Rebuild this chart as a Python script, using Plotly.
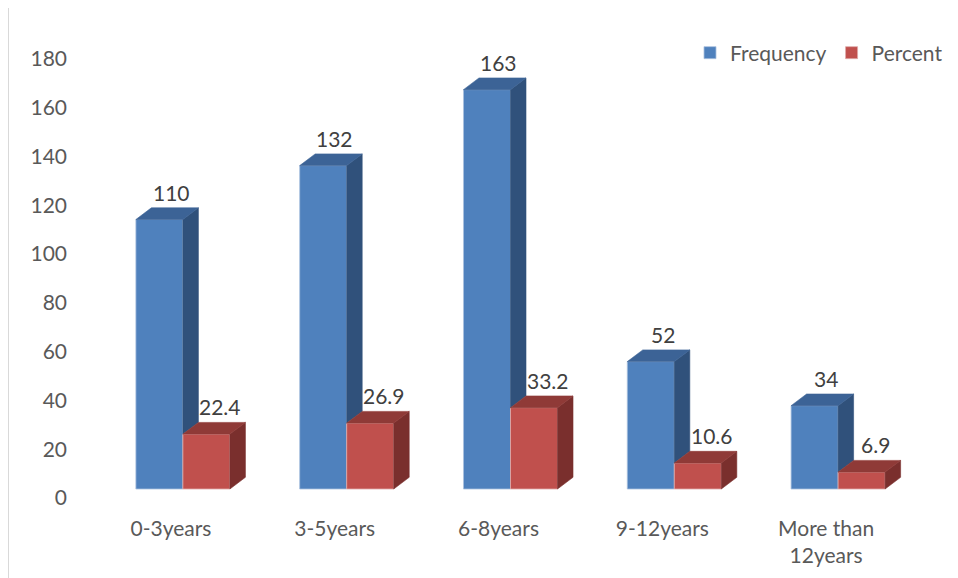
import plotly.graph_objects as go

categories = ["0-3years", "3-5years", "6-8years", "9-12years", "More than<br>12years"]
frequency = [110, 132, 163, 52, 34]
percent = [22.4, 26.9, 33.2, 10.6, 6.9]
y_ticks = [0, 20, 40, 60, 80, 100, 120, 140, 160, 180]

# layout geometry (pixels); the page body shifts the figure by 8px, compensated here
OFF = 8
W, H = 958, 578
ML, MT = 101 - OFF, 30 - OFF
PLOT_R, PLOT_B = 920 - OFF, 505 - OFF
MR, MB = W - PLOT_R, H - PLOT_B
PW = W - ML - MR
PH = H - MT - MB
BAR_W = 0.287               # width of each bar in category units
DEPTH_PX_X, DEPTH_PX_Y = 15.5, 11.7
px_per_unit_y = 2.45
y_lo = -16 / px_per_unit_y
y_hi = y_lo + PH / px_per_unit_y
tick_ppu = 2.439
y2_lo = -7 / tick_ppu
y2_hi = y2_lo + PH / tick_ppu
dxu = DEPTH_PX_X / (PW / 5.0)
dyu = DEPTH_PX_Y / px_per_unit_y

BLUE, BLUE_TOP, BLUE_SIDE = "#4F81BD", "#3C6396", "#30517B"
RED, RED_TOP, RED_SIDE = "#C0504D", "#8F3A37", "#7A2F2D"
FONT = "Lato"

xs = list(range(len(categories)))

fig = go.Figure()

fig.add_trace(go.Bar(x=xs, y=frequency, width=BAR_W, offset=-BAR_W, name="Frequency",
                     marker=dict(color=BLUE, line=dict(color="#A9C0DE", width=0.8)),
                     hoverinfo="skip"))
fig.add_trace(go.Bar(x=xs, y=percent, width=BAR_W, offset=0, name="Percent",
                     marker=dict(color=RED, line=dict(color="#E0A9A8", width=0.8)),
                     hoverinfo="skip"))


def poly_trace(polys, color):
    px, py = [], []
    for p in polys:
        for (a, b) in p:
            px.append(a)
            py.append(b)
        px.append(p[0][0])
        py.append(p[0][1])
        px.append(None)
        py.append(None)
    return go.Scatter(x=px, y=py, mode="lines", fill="toself", fillcolor=color,
                      line=dict(width=0.6, color=color), showlegend=False, hoverinfo="skip")


blue_top, blue_side, red_top, red_side = [], [], [], []
for i, (f, p) in enumerate(zip(frequency, percent)):
    x0, x1 = i - BAR_W, i
    blue_top.append([(x0, f), (x1, f), (x1 + dxu, f + dyu), (x0 + dxu, f + dyu)])
    blue_side.append([(x1, p), (x1 + dxu, p + dyu), (x1 + dxu, f + dyu), (x1, f)])
    r0, r1 = i, i + BAR_W
    red_top.append([(r0, p), (r1, p), (r1 + dxu, p + dyu), (r0 + dxu, p + dyu)])
    red_side.append([(r1, 0), (r1 + dxu, dyu), (r1 + dxu, p + dyu), (r1, p)])

fig.add_trace(poly_trace(blue_side, BLUE_SIDE))
fig.add_trace(poly_trace(blue_top, BLUE_TOP))
fig.add_trace(poly_trace(red_side, RED_SIDE))
fig.add_trace(poly_trace(red_top, RED_TOP))

# empty trace so that the tick-label axis is drawn
fig.add_trace(go.Scatter(x=[], y=[], yaxis="y2", showlegend=False, hoverinfo="skip"))

# data labels
for i, (f, p) in enumerate(zip(frequency, percent)):
    fig.add_annotation(x=i - BAR_W / 2 + dxu / 2, y=f + dyu, text=str(f), showarrow=False,
                       yanchor="bottom", xanchor="center", xshift=4, yshift=1,
                       font=dict(family=FONT, size=21, color="#404040"))
    fig.add_annotation(x=i + BAR_W / 2 + dxu / 2, y=p + dyu, text=str(p), showarrow=False,
                       yanchor="bottom", xanchor="center", xshift=6, yshift=1,
                       font=dict(family=FONT, size=21, color="#404040"))


# helpers: target-picture pixels -> paper coordinates
def pxx(v):
    return (v - OFF - ML) / PW


def pxy(v):
    return (H - MB - (v - OFF)) / PH


fig.add_shape(type="rect", xref="paper", yref="paper", x0=pxx(8.5), x1=pxx(1010),
              y0=pxy(640), y1=pxy(5), line=dict(color="#D9D9D9", width=1),
              fillcolor="rgba(0,0,0,0)", layer="below")

fig.update_layout(
    width=W, height=H,
    margin=dict(l=ML, r=MR, t=MT, b=MB),
    paper_bgcolor="white", plot_bgcolor="white",
    barmode="overlay",
    font=dict(family=FONT, size=21, color="#595959"),
    xaxis=dict(range=[-0.5, 4.5], tickmode="array",
               tickvals=[i - 0.073 for i in xs], ticktext=categories,
               showgrid=False, zeroline=False, showline=False, ticks="",
               ticklabelstandoff=9, fixedrange=True),
    yaxis=dict(range=[y_lo, y_hi], showticklabels=False, showgrid=False,
               zeroline=False, showline=False, ticks=""),
    yaxis2=dict(range=[y2_lo, y2_hi], overlaying="y", anchor="x", side="left",
                tickmode="array", tickvals=y_ticks, showgrid=False, zeroline=False,
                showline=False, ticks="", ticklabelstandoff=33),
    legend=dict(orientation="h", x=pxx(690), xanchor="left", y=pxy(53), yanchor="middle",
                font=dict(family=FONT, size=21, color="#595959"),
                itemwidth=30, traceorder="normal", bgcolor="rgba(0,0,0,0)"),
    showlegend=True,
)

fig.write_html("out.html")
